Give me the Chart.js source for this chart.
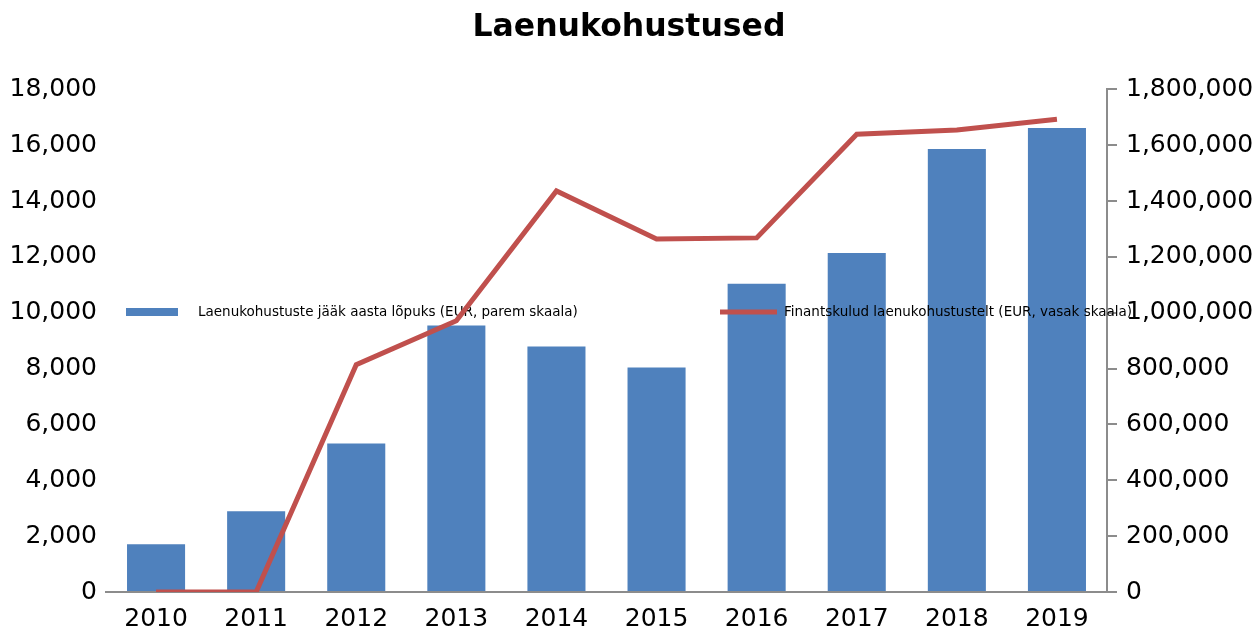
<!DOCTYPE html>
<html>
<head>
<meta charset="utf-8">
<script src="https://cdn.jsdelivr.net/npm/chart.js@4/dist/chart.umd.min.js"></script>
<style>
    html, body { margin: 0; padding: 0; background: #fff; }
    #wrap { width: 1255px; height: 627px; }
</style>
</head>
<body>
<div id="wrap"><canvas id="plot-loans"></canvas></div>
<script>
const years = ['2010', '2011', '2012', '2013', '2014', '2015', '2016', '2017', '2018', '2019'];
// Laenukohustuste jääk aasta lõpuks (EUR, parem skaala)
const loanBalance = [171000, 289000, 532000, 954000, 879000, 804000, 1104000, 1214000, 1586000, 1661000];
// Finantskulud laenukohustustelt (EUR, vasak skaala)
const financeCosts = [0, 0, 8140, 9710, 14360, 12640, 12680, 16390, 16540, 16930];
const leftTicks = [0, 2000, 4000, 6000, 8000, 10000, 12000, 14000, 16000, 18000];
const rightTicks = [0, 200000, 400000, 600000, 800000, 1000000, 1200000, 1400000, 1600000, 1800000];

const barLabel = 'Laenukohustuste jääk aasta lõpuks (EUR, parem skaala)';
const lineLabel = 'Finantskulud laenukohustustelt (EUR, vasak skaala)';
const blue = '#4F81BD';
const red = '#C0504D';
const axisGray = '#8c8c8c';
const font = 'DejaVu Sans, sans-serif';

const fmt = v => v.toLocaleString('en-US');

// legend sits in the middle of the plot, drawn between bars and line
const midLegend = {
    id: 'midLegend',
    beforeDatasetDraw(chart, args) {
        if (args.meta.type !== 'line') return;
        const ctx = chart.ctx;
        const y = 312;
        ctx.save();
        ctx.fillStyle = blue;
        ctx.fillRect(126, y - 4, 52, 8);
        ctx.strokeStyle = red;
        ctx.lineWidth = 5;
        ctx.beginPath();
        ctx.moveTo(720, y);
        ctx.lineTo(777, y);
        ctx.stroke();
        ctx.fillStyle = '#000';
        ctx.font = '13.5px ' + font;
        ctx.textBaseline = 'middle';
        ctx.fillText(barLabel, 198, y);
        ctx.fillText(lineLabel, 784, y);
        ctx.restore();
    }
};

new Chart('plot-loans', {
    type: 'bar',
    data: {
        labels: years,
        datasets: [{
            type: 'line',
            label: lineLabel,
            data: financeCosts,
            yAxisID: 'y',
            borderColor: red,
            borderWidth: 5,
            pointRadius: 0,
            tension: 0,
            order: 0
        }, {
            type: 'bar',
            label: barLabel,
            data: loanBalance,
            yAxisID: 'y1',
            backgroundColor: blue,
            barPercentage: 0.58,
            categoryPercentage: 1,
            order: 1
        }]
    },
    options: {
        responsive: true,
        maintainAspectRatio: false,
        animation: false,
        layout: { padding: { left: 3 } },
        plugins: {
            legend: { display: false },
            tooltip: { enabled: false },
            title: {
                display: true,
                text: 'Laenukohustused',
                color: '#000',
                font: { family: font, size: 31.5, weight: 'bold' },
                padding: { top: 9, bottom: 42.5 }
            }
        },
        scales: {
            x: {
                offset: true,
                grid: { display: false, drawTicks: false },
                border: { display: true, color: axisGray, width: 2 },
                ticks: { color: '#000', font: { family: font, size: 25 }, padding: 12, maxRotation: 0 },
                afterFit: s => { s.height = 35; }
            },
            y: {
                position: 'left',
                min: 0,
                max: 18000,
                grid: { display: false, drawTicks: false },
                border: { display: false },
                afterBuildTicks: s => { s.ticks = leftTicks.map(v => ({ value: v })); },
                ticks: { color: '#000', font: { family: font, size: 25 }, padding: 9, callback: v => fmt(v) },
                afterFit: s => { s.width = 103; }
            },
            y1: {
                position: 'right',
                min: 0,
                max: 1800000,
                grid: { drawOnChartArea: false, drawTicks: true, tickLength: 10, color: axisGray, lineWidth: 2 },
                border: { display: true, color: axisGray, width: 2 },
                afterBuildTicks: s => { s.ticks = rightTicks.map(v => ({ value: v })); },
                ticks: { color: '#000', font: { family: font, size: 25 }, padding: 9, callback: v => fmt(v) },
                afterFit: s => { s.width = 148; }
            }
        }
    },
    plugins: [midLegend]
});
</script>
</body>
</html>
